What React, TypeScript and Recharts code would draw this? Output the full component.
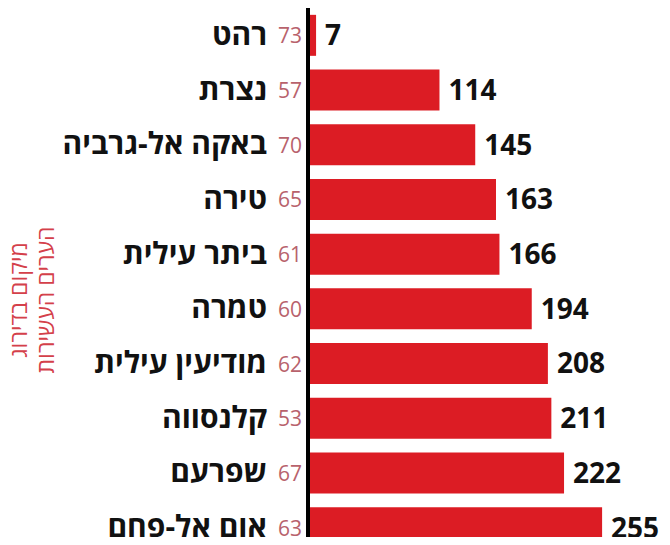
import React from 'react';
import { BarChart, Bar, XAxis, YAxis, LabelList, ReferenceLine } from 'recharts';

const cities = ['רהט', 'נצרת', 'באקה אל-גרביה', 'טירה', 'ביתר עילית', 'טמרה', 'מודיעין עילית', 'קלנסווה', 'שפרעם', 'אום אל-פחם'];
const ranks = [73, 57, 70, 65, 61, 60, 62, 53, 67, 63];
const values = [7, 114, 145, 163, 166, 194, 208, 211, 222, 255];
const sideTitle = ['מיקום בדירוג', 'הערים העשירות'];

const data = cities.map((c, i) => ({ city: c, rank: ranks[i], value: values[i] }));

const FONT = "'Open Sans', 'DejaVu Sans', sans-serif";

const CityTick = (props: any) => {
  const { x, y, payload, index } = props;
  const rank = ranks[index];
  return (
    <g>
      <text x={x - 6} y={y} textAnchor="end" dominantBaseline="central" fontFamily={FONT} fontSize={21} fill="#b8626c">
        {rank}
      </text>
      <text x={x - 41} y={y - 2} textAnchor="end" dominantBaseline="central" fontFamily={FONT} fontSize={30} fontWeight={700} fill="#111">
        {payload.value}
      </text>
    </g>
  );
};

export default function App() {
  return (
    <div style={{ margin: -8, width: 670, height: 545, overflow: 'hidden', position: 'relative', background: '#fff' }}>
      <BarChart
        width={670}
        height={560}
        data={data}
        layout="vertical"
        margin={{ top: 8, right: 16, bottom: 5, left: 0 }}
        barCategoryGap="12.5%"
      >
        <XAxis type="number" domain={[0, 300]} hide />
        <YAxis
          type="category"
          dataKey="city"
          width={308}
          axisLine={false}
          tickLine={false}
          tickSize={0}
          tickMargin={0}
          tick={<CityTick />}
          interval={0}
        />
        <Bar dataKey="value" fill="#dc1c24" isAnimationActive={false}>
          <LabelList
            dataKey="value"
            position="right"
            offset={9}
            fill="#111"
            fontFamily={FONT}
            fontSize={28}
            fontWeight={700}
          />
        </Bar>
        <ReferenceLine x={0} stroke="#000" strokeWidth={4} />
      </BarChart>
      <svg width={70} height={545} style={{ position: 'absolute', left: 0, top: 0 }}>
        <text x={18} y={300} transform="rotate(-90 18 300)" textAnchor="middle" dominantBaseline="central" fontFamily={FONT} fontSize={23} fill="#d4404a">
          {sideTitle[0]}
        </text>
        <text x={45} y={300} transform="rotate(-90 45 300)" textAnchor="middle" dominantBaseline="central" fontFamily={FONT} fontSize={23} fill="#d4404a">
          {sideTitle[1]}
        </text>
      </svg>
    </div>
  );
}
